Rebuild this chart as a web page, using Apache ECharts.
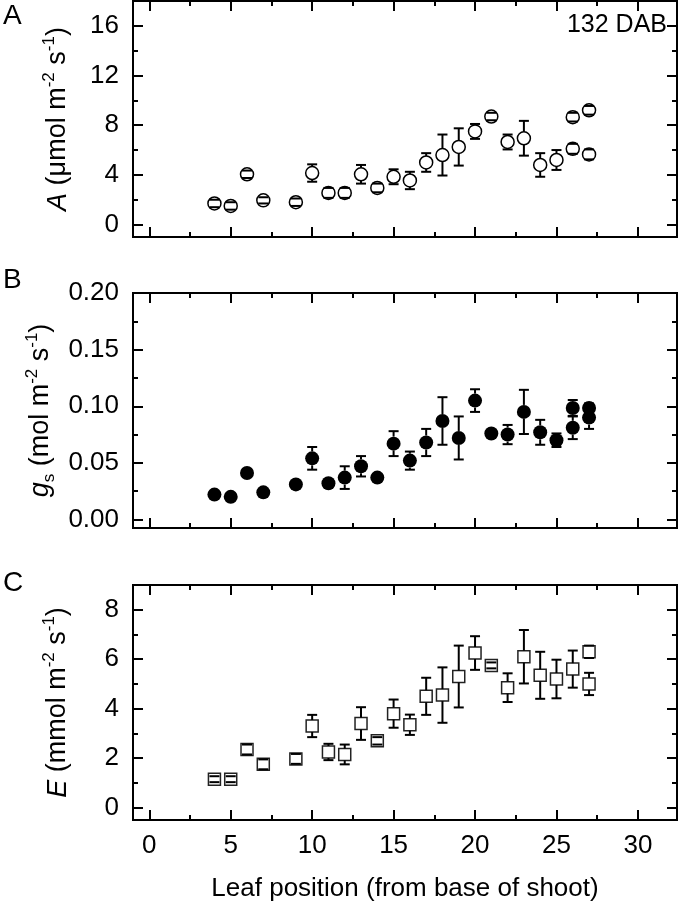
<!DOCTYPE html>
<html>
<head>
<meta charset="utf-8">
<script src="https://cdn.jsdelivr.net/npm/echarts@6/dist/echarts.min.js"></script>
<style>
  html, body { margin: 0; padding: 0; background: #fff; }
  #chart { width: 680px; height: 910px; }
</style>
</head>
<body>
<div id="chart"></div>
<script>
// leaf positions (some leaves measured twice)
const leafA = [4, 5, 6, 7, 9, 10, 11, 12, 13, 14, 15, 16, 17, 18, 19, 20, 21, 22, 23, 24, 25, 26, 26, 27, 27];
const photoA = [1.7, 1.5, 4.05, 1.95, 1.8, 4.15, 2.55, 2.55, 4.05, 2.95, 3.85, 3.55, 5.0, 5.6, 6.25, 7.5, 8.7, 6.65, 6.95, 4.8, 5.2, 6.1, 8.65, 9.2, 5.65];
const photoErr = [0.3, 0.3, 0.3, 0.25, 0.3, 0.7, 0.4, 0.4, 0.75, 0.35, 0.6, 0.7, 0.75, 1.65, 1.5, 0.6, 0.3, 0.6, 1.4, 0.95, 0.8, 0.4, 0.35, 0.35, 0.4];

const leafB = [4, 5, 6, 7, 9, 10, 11, 12, 13, 14, 15, 16, 17, 18, 19, 20, 21, 22, 23, 24, 25, 26, 26, 27, 27];
const gsVal = [0.022, 0.020, 0.041, 0.024, 0.031, 0.054, 0.032, 0.037, 0.047, 0.037, 0.067, 0.052, 0.068, 0.087, 0.072, 0.105, 0.076, 0.075, 0.095, 0.077, 0.070, 0.0985, 0.081, 0.0985, 0.090];
const gsErr = [0.002, 0.002, 0.003, 0.002, 0.003, 0.010, 0.003, 0.010, 0.009, 0.003, 0.011, 0.008, 0.012, 0.021, 0.019, 0.010, 0.003, 0.0085, 0.0195, 0.011, 0.006, 0.007, 0.010, 0.004, 0.010];

const leafC = [4, 5, 6, 7, 9, 10, 11, 12, 13, 14, 15, 16, 17, 18, 19, 20, 21, 22, 23, 24, 25, 26, 27, 27];
const transVal = [1.15, 1.15, 2.35, 1.75, 1.97, 3.3, 2.25, 2.15, 3.4, 2.7, 3.8, 3.35, 4.5, 4.55, 5.3, 6.25, 5.75, 4.85, 6.1, 5.35, 5.2, 5.6, 6.3, 5.0];
const transErr = [0.12, 0.12, 0.2, 0.2, 0.2, 0.45, 0.33, 0.4, 0.66, 0.15, 0.57, 0.41, 0.75, 1.12, 1.25, 0.68, 0.12, 0.58, 1.08, 0.95, 0.78, 0.75, 0.25, 0.45];

// tick values
const xMajor = [0, 5, 10, 15, 20, 25, 30];
const xMinor = [2.5, 7.5, 12.5, 17.5, 22.5, 27.5];
const aMajor = [0, 4, 8, 12, 16];
const aMinor = [2, 6, 10, 14];
const bMajor = [0, 0.05, 0.1, 0.15, 0.2];
const bMinor = [0.025, 0.075, 0.125, 0.175];
const cMajor = [0, 2, 4, 6, 8];
const cMinor = [1, 3, 5, 7];

const FONT = "Liberation Sans, Arial, sans-serif";
const chart = echarts.init(document.getElementById("chart"));

const grids = [
  { left: 133, width: 544, top: 1, height: 236 },
  { left: 133, width: 544, top: 293, height: 235 },
  { left: 133, width: 544, top: 585, height: 235 },
];

const tickAxis = (g, pos, min, max, values, len, labels) => ({
  type: "value",
  gridIndex: g,
  position: pos,
  min: min,
  max: max,
  axisLine: { show: false, onZero: false },
  splitLine: { show: false },
  axisTick: { show: true, inside: true, length: len, customValues: values, lineStyle: { color: "#000", width: 2 } },
  axisLabel: labels
    ? { show: true, customValues: labels.values, formatter: labels.fmt, color: "#000", fontSize: 26, fontFamily: FONT, margin: labels.margin }
    : { show: false },
});

let xAxes = [];
let yAxes = [];
const yRanges = [[-1, 18], [-0.0075, 0.2], [-0.5, 9]];
const yTicks = [[aMajor, aMinor], [bMajor, bMinor], [cMajor, cMinor]];
const yFmt = [(v) => String(v), (v) => v.toFixed(2), (v) => String(v)];

for (let g = 0; g < 3; g++) {
  // index 4*g is the main axis used by the series
  xAxes.push(tickAxis(g, "bottom", -1, 32.4, xMajor, 10, g === 2 ? { values: xMajor, fmt: (v) => String(v), margin: 13 } : null));
  xAxes.push(tickAxis(g, "bottom", -1, 32.4, xMinor, 5, null));
  xAxes.push(tickAxis(g, "top", -1, 32.4, xMajor, 10, null));
  xAxes.push(tickAxis(g, "top", -1, 32.4, xMinor, 5, null));
  const [lo, hi] = yRanges[g];
  yAxes.push(tickAxis(g, "left", lo, hi, yTicks[g][0], 10, { values: yTicks[g][0], fmt: yFmt[g], margin: 14 }));
  yAxes.push(tickAxis(g, "left", lo, hi, yTicks[g][1], 5, null));
  yAxes.push(tickAxis(g, "right", lo, hi, yTicks[g][0], 10, null));
  yAxes.push(tickAxis(g, "right", lo, hi, yTicks[g][1], 5, null));
}

const nameRich = {
  n: { fontSize: 27, fontFamily: FONT, color: "#000", lineHeight: 34 },
  it: { fontSize: 27, fontFamily: FONT, fontStyle: "italic", color: "#000", lineHeight: 34 },
  sup: { fontSize: 17, fontFamily: FONT, color: "#000", lineHeight: 15, verticalAlign: "top" },
  sub: { fontSize: 17, fontFamily: FONT, color: "#000", lineHeight: 15, verticalAlign: "bottom" },
};
const names = [
  "{it|A}{n| (\u03bcmol m}{sup|-2}{n| s}{sup|-1}{n|)}",
  "{it|g}{sub|s}{n| (mol m}{sup|-2}{n| s}{sup|-1}{n|)}",
  "{it|E}{n| (mmol m}{sup|-2}{n| s}{sup|-1}{n|)}",
];
for (let g = 0; g < 3; g++) {
  Object.assign(yAxes[4 * g], {
    name: names[g],
    nameLocation: "middle",
    nameRotate: 90,
    nameGap: 58,
    nameTextStyle: { rich: nameRich },
  });
}

const toData = (xs, ys, es) => xs.map((x, i) => [x, ys[i], es[i]]);

// error bars: whiskers outside the symbol, caps always drawn
const errSeries = (g, data, r) => ({
  type: "custom",
  xAxisIndex: 4 * g,
  yAxisIndex: 4 * g,
  z: 5,
  silent: true,
  data: data,
  renderItem: function (params, api) {
    const x = api.value(0), y = api.value(1), e = api.value(2);
    const c = api.coord([x, y]);
    const t = api.coord([x, y + e]);
    const b = api.coord([x, y - e]);
    const st = { stroke: "#000", lineWidth: 2 };
    const kids = [
      { type: "line", shape: { x1: c[0] - 5, y1: t[1], x2: c[0] + 5, y2: t[1] }, style: st },
      { type: "line", shape: { x1: c[0] - 5, y1: b[1], x2: c[0] + 5, y2: b[1] }, style: st },
    ];
    if (t[1] < c[1] - r) kids.push({ type: "line", shape: { x1: c[0], y1: t[1], x2: c[0], y2: c[1] - r }, style: st });
    if (b[1] > c[1] + r) kids.push({ type: "line", shape: { x1: c[0], y1: c[1] + r, x2: c[0], y2: b[1] }, style: st });
    return { type: "group", children: kids };
  },
});

const option = {
  animation: false,
  backgroundColor: "#fff",
  grid: grids.map((g) => Object.assign({ show: true, borderColor: "#000", borderWidth: 2, backgroundColor: "transparent" }, g)),
  xAxis: xAxes,
  yAxis: yAxes,
  graphic: [
    { type: "text", left: 3, top: 2, style: { text: "A", fontSize: 28, fontFamily: FONT, fill: "#000" } },
    { type: "text", left: 3, top: 266, style: { text: "B", fontSize: 28, fontFamily: FONT, fill: "#000" } },
    { type: "text", left: 3, top: 569, style: { text: "C", fontSize: 28, fontFamily: FONT, fill: "#000" } },
    { type: "text", right: 13, top: 13, style: { text: "132 DAB", fontSize: 25, fontFamily: FONT, fill: "#000" } },
    { type: "text", x: 405, y: 889, style: { text: "Leaf position (from base of shoot)", fontSize: 26, fontFamily: FONT, fill: "#000", align: "center", verticalAlign: "middle" } },
  ],
  series: [
    {
      type: "scatter", xAxisIndex: 0, yAxisIndex: 0, z: 3,
      symbol: "circle", symbolSize: 13,
      itemStyle: { color: "#fff", borderColor: "#000", borderWidth: 1.5, opacity: 1 },
      data: toData(leafA, photoA, photoErr),
    },
    errSeries(0, toData(leafA, photoA, photoErr), 6.5),
    {
      type: "scatter", xAxisIndex: 4, yAxisIndex: 4, z: 3,
      symbol: "circle", symbolSize: 14,
      itemStyle: { color: "#000", opacity: 1 },
      data: toData(leafB, gsVal, gsErr),
    },
    errSeries(1, toData(leafB, gsVal, gsErr), 7),
    {
      type: "scatter", xAxisIndex: 8, yAxisIndex: 8, z: 3,
      symbol: "rect", symbolSize: 12,
      itemStyle: { color: "#fff", borderColor: "#222", borderWidth: 1.5, opacity: 1 },
      data: toData(leafC, transVal, transErr),
    },
    errSeries(2, toData(leafC, transVal, transErr), 6),
  ],
};

chart.setOption(option);
</script>
</body>
</html>
